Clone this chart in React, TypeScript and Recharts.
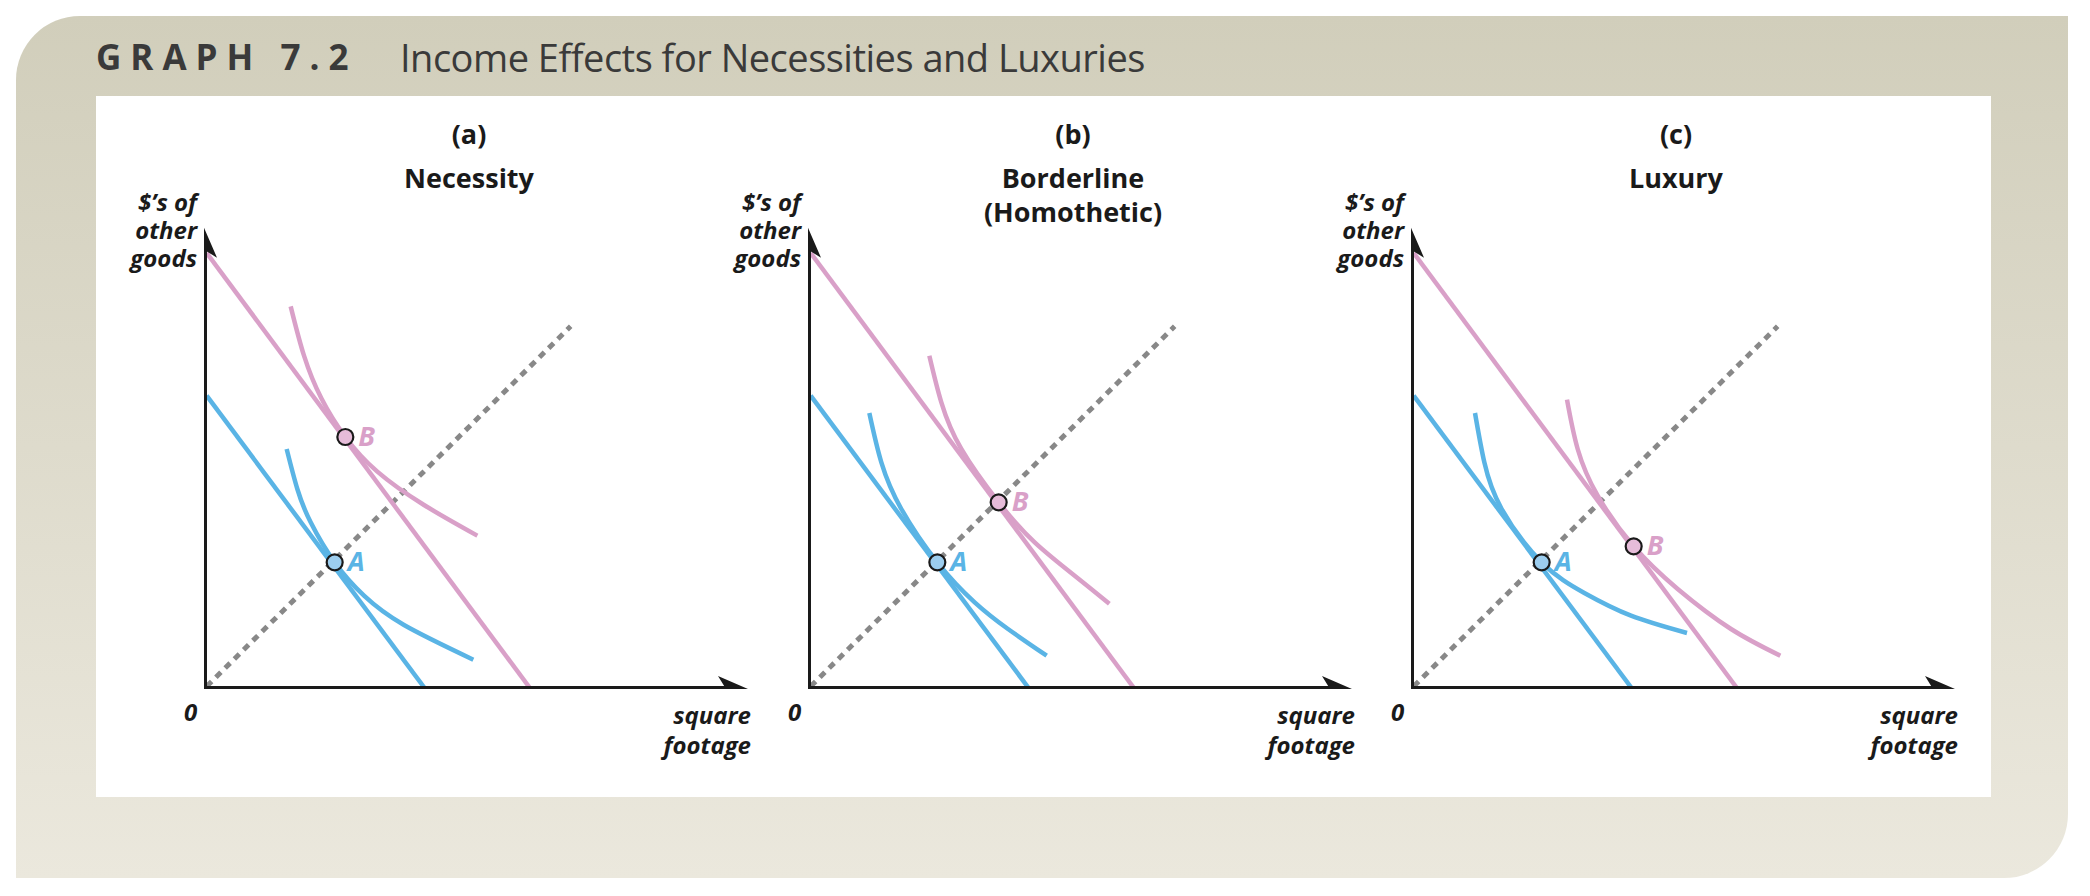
import React from "react";
import { ComposedChart, Line, Scatter, XAxis, YAxis } from "recharts";

const PINK = "#d9a0c8";
const BLUE = "#5ab4e5";

const panelTitles = [["(a)", "Necessity"], ["(b)", "Borderline", "(Homothetic)"], ["(c)", "Luxury"]];
const yLabel = ["$\u2019s of", "other", "goods"];
const xLabel = ["square", "footage"];

const budgetLow = [{ x: 2, y: 220 }, { x: 166, y: 0 }];
const budgetHigh = [{ x: 2, y: 327 }, { x: 245, y: 0 }];
const ray = [{ x: 2, y: 2 }, { x: 275, y: 272 }];
const xAxisLine = [{ x: 0, y: 0 }, { x: 392, y: 0 }];
const yAxisLine = [{ x: 0, y: 0 }, { x: 0, y: 330 }];

const icLowA = [{ x: 62, y: 180 }, { x: 70, y: 150 }, { x: 80, y: 125 }, { x: 98, y: 95 }, { x: 120, y: 70 }, { x: 150, y: 48 }, { x: 202, y: 22 }];
const icHighA = [{ x: 65, y: 287 }, { x: 75, y: 250 }, { x: 88, y: 218 }, { x: 106, y: 189 }, { x: 130, y: 163 }, { x: 165, y: 138 }, { x: 205, y: 115 }];
const icLowB = [{ x: 46, y: 207 }, { x: 55, y: 170 }, { x: 70, y: 135 }, { x: 97, y: 95 }, { x: 125, y: 65 }, { x: 150, y: 45 }, { x: 179, y: 25 }];
const icHighB = [{ x: 91, y: 250 }, { x: 100, y: 215 }, { x: 115, y: 180 }, { x: 143, y: 140 }, { x: 170, y: 110 }, { x: 200, y: 85 }, { x: 226, y: 64 }];
const icLowC = [{ x: 48, y: 207 }, { x: 55, y: 170 }, { x: 68, y: 135 }, { x: 98, y: 95 }, { x: 130, y: 72 }, { x: 165, y: 55 }, { x: 207, y: 42 }];
const icHighC = [{ x: 117, y: 217 }, { x: 125, y: 180 }, { x: 140, y: 145 }, { x: 167, y: 107 }, { x: 200, y: 75 }, { x: 240, y: 45 }, { x: 277, y: 25 }];

const pointsA = [{ x: 98, y: 95, label: "A", kind: "low" }, { x: 106, y: 189, label: "B", kind: "high" }];
const pointsB = [{ x: 97, y: 95, label: "A", kind: "low" }, { x: 143, y: 140, label: "B", kind: "high" }];
const pointsC = [{ x: 98, y: 95, label: "A", kind: "low" }, { x: 167, y: 107, label: "B", kind: "high" }];

const panels = [
  { ox: 204, low: icLowA, high: icHighA, pts: pointsA },
  { ox: 808, low: icLowB, high: icHighB, pts: pointsB },
  { ox: 1411, low: icLowC, high: icHighC, pts: pointsC },
];

const OY = 689;
const M = 20;
const PW = 560;
const PH = 480;

const ArrowRight = (p: any) => (
  <polygon points={`${p.cx},${p.cy} ${p.cx - 30},${p.cy - 13} ${p.cx - 22},${p.cy} ${p.cx - 30},${p.cy + 13}`} fill="#1a1a1a" />
);
const ArrowUp = (p: any) => (
  <polygon points={`${p.cx},${p.cy} ${p.cx - 13},${p.cy + 30} ${p.cx},${p.cy + 22} ${p.cx + 13},${p.cy + 30}`} fill="#1a1a1a" />
);
const PointShape = (p: any) => {
  const low = p.payload.kind === "low";
  return (
    <g>
      <circle cx={p.cx} cy={p.cy} r={8} fill={low ? "#9ccdee" : "#e6bcd9"} stroke="#1a1a1a" strokeWidth={2.2} />
      <text x={p.cx + 13} y={p.cy + 9} fontFamily="Open Sans" fontStyle="italic" fontWeight={700} fontSize={27} fill={low ? BLUE : PINK}>
        {p.payload.label}
      </text>
    </g>
  );
};

function Panel({ ox, low, high, pts }: any) {
  const lp = { type: "natural" as const, dataKey: "y", dot: false, isAnimationActive: false, strokeWidth: 4.5 };
  return (
    <div style={{ position: "absolute", left: ox - M, top: OY - PH - M }}>
      <ComposedChart width={PW + 2 * M} height={PH + 2 * M} margin={{ top: M, right: M, bottom: M, left: M }}>
        <XAxis type="number" dataKey="x" domain={[0, 420]} hide allowDataOverflow />
        <YAxis type="number" dataKey="y" domain={[0, 360]} hide allowDataOverflow />
        <Line data={ray} {...lp} type="linear" stroke="#888888" strokeWidth={5} strokeDasharray="7 6" />
        <Line data={budgetLow} {...lp} type="linear" stroke={BLUE} />
        <Line data={budgetHigh} {...lp} type="linear" stroke={PINK} />
        <Line data={low} {...lp} stroke={BLUE} />
        <Line data={high} {...lp} stroke={PINK} />
        <Line data={xAxisLine} {...lp} type="linear" stroke="#1a1a1a" strokeWidth={6} />
        <Line data={yAxisLine} {...lp} type="linear" stroke="#1a1a1a" strokeWidth={6} />
        <Scatter data={[{ x: 408, y: 0 }]} shape={ArrowRight} isAnimationActive={false} />
        <Scatter data={[{ x: 0, y: 346 }]} shape={ArrowUp} isAnimationActive={false} />
        <Scatter data={pts} shape={PointShape} isAnimationActive={false} />
      </ComposedChart>
    </div>
  );
}

const txt: React.CSSProperties = { position: "absolute", fontFamily: "Open Sans", color: "#1a1a1a", whiteSpace: "nowrap" };

export default function App() {
  return (
    <div style={{ position: "absolute", left: 0, top: 0, width: 2090, height: 896, background: "#ffffff", overflow: "hidden" }}>
      <div style={{ position: "absolute", left: 16, top: 16, width: 2052, height: 862, borderRadius: "64px 0 64px 0", background: "linear-gradient(#d1cebb, #ebe8dd)" }} />
      <div style={{ ...txt, left: 96, top: 33, fontSize: 35, fontWeight: 700, letterSpacing: 9, color: "#3a3a3a" }}>GRAPH 7.2</div>
      <div style={{ ...txt, left: 400, top: 31, fontSize: 38, fontWeight: 400, letterSpacing: -0.5, color: "#3a3a3a" }}>Income Effects for Necessities and Luxuries</div>
      <div style={{ position: "absolute", left: 96, top: 96, width: 1895, height: 701, background: "#ffffff" }} />
      {panels.map((p, i) => (
        <React.Fragment key={i}>
          <Panel {...p} />
          <div style={{ ...txt, left: p.ox + 265 - 150, width: 300, top: 117, textAlign: "center", fontSize: 27, fontWeight: 700, lineHeight: "34px" }}>
            {panelTitles[i].map((t, j) => <div key={j} style={{ marginBottom: j === 0 ? 10 : 0 }}>{t}</div>)}
          </div>
          <div style={{ ...txt, left: p.ox - 210, width: 203, top: 188, textAlign: "right", fontSize: 24, fontWeight: 700, fontStyle: "italic", lineHeight: "28px" }}>
            {yLabel.map((t, j) => <div key={j}>{t}</div>)}
          </div>
          <div style={{ ...txt, left: p.ox - 20, top: 695, fontSize: 24, fontWeight: 700, fontStyle: "italic" }}>0</div>
          <div style={{ ...txt, left: p.ox + 547 - 200, width: 200, top: 700, textAlign: "right", fontSize: 24, fontWeight: 700, fontStyle: "italic", lineHeight: "30px" }}>
            {xLabel.map((t, j) => <div key={j}>{t}</div>)}
          </div>
        </React.Fragment>
      ))}
    </div>
  );
}
